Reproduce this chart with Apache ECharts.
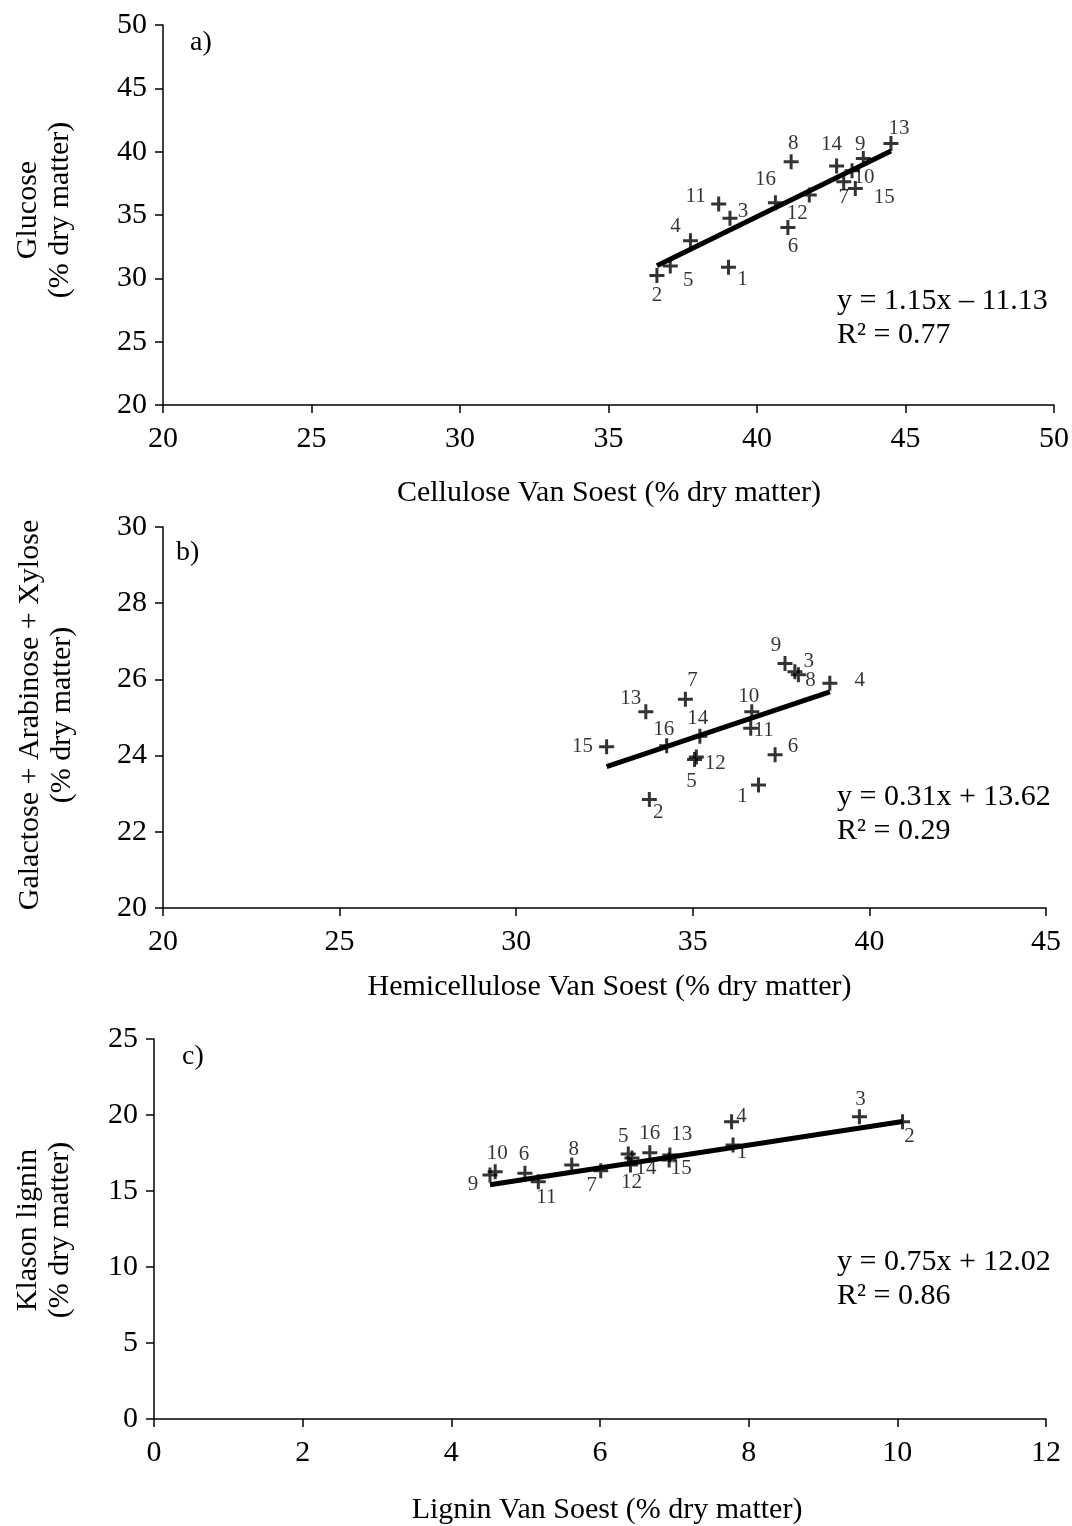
<!DOCTYPE html>
<html>
<head>
<meta charset="utf-8">
<title>Van Soest fractions vs. sugar and lignin contents</title>
<script src="https://cdn.jsdelivr.net/npm/echarts@6/dist/echarts.min.js"></script>
<style>
  html, body { margin: 0; padding: 0; background: #fff; }
  #chart { width: 1072px; height: 1526px; }
</style>
</head>
<body>
<div id="chart"></div>
<script>
// Sample numbers (same order in every panel)
const sampleIds = [1, 2, 3, 4, 5, 6, 7, 8, 9, 10, 11, 12, 13, 14, 15, 16];

// a) Cellulose Van Soest vs. glucose (% dry matter)
const celluloseVS = [39.04, 36.63, 39.09, 37.76, 37.08, 41.04, 42.92, 41.15, 43.58, 43.20, 38.71, 41.76, 44.51, 42.68, 43.31, 40.62];
const glucose     = [30.87, 30.22, 34.74, 32.97, 30.97, 34.02, 37.63, 39.20, 39.47, 38.50, 35.86, 36.57, 40.65, 38.86, 37.10, 35.97];

// b) Hemicellulose Van Soest vs. galactose + arabinose + xylose (% dry matter)
const hemicelluloseVS = [36.86, 33.77, 37.89, 38.88, 35.05, 37.33, 34.79, 37.99, 37.61, 36.67, 36.64, 35.10, 33.67, 35.20, 32.56, 34.26];
const galArabXyl      = [23.23, 22.85, 26.20, 25.90, 23.90, 24.02, 25.48, 26.12, 26.42, 25.15, 24.72, 23.96, 25.15, 24.51, 24.23, 24.26];

// c) Lignin Van Soest vs. Klason lignin (% dry matter)
const ligninVS     = [7.79, 10.07, 9.49, 7.77, 6.38, 4.99, 6.01, 5.62, 4.52, 4.59, 5.17, 6.41, 6.94, 6.43, 6.93, 6.67];
const klasonLignin = [18.03, 19.56, 19.89, 19.56, 17.43, 16.16, 16.34, 16.71, 16.05, 16.27, 15.61, 16.71, 17.37, 17.17, 17.04, 17.52];

// Linear fits as printed on each panel
const fitA = { slope: 1.15, intercept: -11.13, r2: '0.77' };
const fitB = { slope: 0.31, intercept: 13.62, r2: '0.29' };
const fitC = { slope: 0.75, intercept: 12.02, r2: '0.86' };

// Axis titles
const xTitles = ['Cellulose Van Soest (% dry matter)', 'Hemicellulose Van Soest (% dry matter)', 'Lignin Van Soest (% dry matter)'];
const yTitles = ['Glucose\n(% dry matter)', 'Galactose + Arabinose + Xylose\n(% dry matter)', 'Klason lignin\n(% dry matter)'];
const panelTags = ['a)', 'b)', 'c)'];

// ---- placement of the sample-number labels (pixel offsets from the marker) ----
const labelOffsetsA = {1:[14,12],2:[0,20],3:[13,-7],4:[-15,-14],5:[18,14],6:[5,19],7:[0,16],8:[2,-18],9:[-3,-14],10:[12,7],11:[-23,-8],12:[-12,18],13:[8,-15],14:[-5,-22],15:[29,9],16:[-10,-23]};
const labelOffsetsB = {1:[-16,12],2:[9,13],3:[14,-10],4:[30,-3],5:[-3,22],6:[18,-8],7:[7,-19],8:[12,6],9:[-9,-18],10:[-3,-15],11:[13,2],12:[19,6],13:[-15,-13],14:[-2,-18],15:[-24,0],16:[-3,-16]};
const labelOffsetsC = {1:[9,8],2:[7,15],3:[1,-17],4:[10,-5],5:[-5,-18],6:[-1,-19],7:[-9,15],8:[2,-16],9:[-17,9],10:[2,-18],11:[8,16],12:[1,17],13:[12,-20],14:[14,10],15:[12,8],16:[0,-19]};

const FONT = '"Liberation Serif", "Times New Roman", "DejaVu Serif", serif';
const PLUS = 'path://M0,6 L6,6 L6,0 L9,0 L9,6 L15,6 L15,9 L9,9 L9,15 L6,15 L6,9 L0,9 Z';

const grids = [
  { left: 163, top: 25,   width: 892, height: 380 },
  { left: 163, top: 527,  width: 883, height: 381 },
  { left: 154, top: 1039, width: 892, height: 380 }
];
const xRanges = [[20, 50, 5], [20, 45, 5], [0, 12, 2]];
const yRanges = [[20, 50, 5], [20, 30, 2], [0, 25, 5]];
const xTitleGap = [88, 79, 91];
const xTitleShift = [0, 5, 7];
const tagPos = [[190, 43], [176, 553], [182, 1057]];

const panels = [
  { xs: celluloseVS, ys: glucose, fit: fitA, offs: labelOffsetsA },
  { xs: hemicelluloseVS, ys: galArabXyl, fit: fitB, offs: labelOffsetsB },
  { xs: ligninVS, ys: klasonLignin, fit: fitC, offs: labelOffsetsC }
];

function axisCommon(range) {
  return {
    min: range[0], max: range[1], interval: range[2],
    axisLine: { show: true, onZero: false, lineStyle: { color: '#000', width: 1.5 } },
    axisTick: { show: true, inside: false, length: 8, lineStyle: { color: '#000', width: 1.5 } },
    splitLine: { show: false },
    axisLabel: { color: '#000', fontFamily: FONT, fontSize: 30 }
  };
}

const xAxis = [], yAxis = [], series = [], graphic = [];

panels.forEach((p, i) => {
  const xa = axisCommon(xRanges[i]);
  xa.type = 'value'; xa.gridIndex = i;
  xa.axisLabel.margin = 19;
  xAxis.push(xa);
  const ya = axisCommon(yRanges[i]);
  ya.type = 'value'; ya.gridIndex = i;
  ya.axisLabel.margin = 16;
  yAxis.push(ya);

  // fitted line spans the observed x range
  const xmin = Math.min(...p.xs), xmax = Math.max(...p.xs);
  series.push({
    type: 'line', xAxisIndex: i, yAxisIndex: i, silent: true,
    showSymbol: false, symbol: 'none', z: 3,
    lineStyle: { color: '#000', width: 5 },
    data: [[xmin, p.fit.slope * xmin + p.fit.intercept], [xmax, p.fit.slope * xmax + p.fit.intercept]]
  });

  series.push({
    type: 'scatter', xAxisIndex: i, yAxisIndex: i, z: 4,
    symbol: PLUS, symbolSize: 15,
    itemStyle: { color: '#000' },
    label: {
      show: true, position: 'inside', color: '#000',
      fontFamily: FONT, fontSize: 21,
      formatter: (d) => String(d.value[2])
    },
    data: sampleIds.map((id, k) => ({
      value: [p.xs[k], p.ys[k], id],
      label: { offset: p.offs[id] }
    }))
  });

  const g = grids[i];
  const bottom = g.top + g.height;
  // x-axis title
  graphic.push({
    type: 'text', x: g.left + g.width / 2 + xTitleShift[i], y: bottom + xTitleGap[i],
    style: { text: xTitles[i], font: '30px ' + FONT, fill: '#000', textAlign: 'center', textVerticalAlign: 'middle' }
  });
  // panel tag
  graphic.push({
    type: 'text', x: tagPos[i][0], y: tagPos[i][1],
    style: { text: panelTags[i], font: '28px ' + FONT, fill: '#000', textAlign: 'left', textVerticalAlign: 'middle' }
  });
  // equation and R²
  const sign = p.fit.intercept < 0 ? ' \u2013 ' : ' + ';
  const eq = 'y = ' + p.fit.slope.toFixed(2) + 'x' + sign + Math.abs(p.fit.intercept).toFixed(2);
  const eqY = [301, 797, 1262][i];
  graphic.push({
    type: 'text', x: 837, y: eqY,
    style: { text: eq, font: '30px ' + FONT, fill: '#000', textAlign: 'left', textVerticalAlign: 'middle' }
  });
  graphic.push({
    type: 'text', x: 837, y: eqY + 34,
    style: { text: 'R\u00B2 = ' + p.fit.r2, font: '30px ' + FONT, fill: '#000', textAlign: 'left', textVerticalAlign: 'middle' }
  });
});

// rotated y-axis titles
const yTitleCenters = [[44, 210], [46, 715], [44, 1230]];
yTitles.forEach((t, i) => {
  graphic.push({
    type: 'text', x: yTitleCenters[i][0], y: yTitleCenters[i][1], rotation: Math.PI / 2,
    style: { text: t, font: '30px ' + FONT, fill: '#000', textAlign: 'center', textVerticalAlign: 'middle', lineHeight: 32 }
  });
});

const chart = echarts.init(document.getElementById('chart'), null, { renderer: 'canvas' });
chart.setOption({
  backgroundColor: '#fff',
  animation: false,
  grid: grids,
  xAxis: xAxis,
  yAxis: yAxis,
  series: series,
  graphic: graphic
});
</script>
</body>
</html>
